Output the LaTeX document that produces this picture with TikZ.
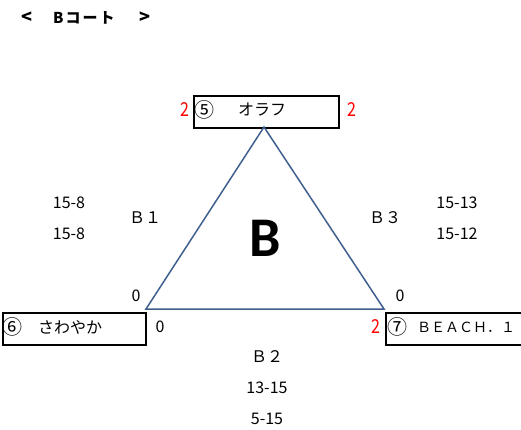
\documentclass[tikz,border=0pt]{standalone}
\usepackage{fontspec}
\setmainfont{Noto Sans CJK JP}
\newfontfamily\bigB{Carlito}
\definecolor{triblue}{HTML}{3F5F8F}
\begin{document}
\begin{tikzpicture}[x=1pt,y=-1pt,
  txt/.style={inner sep=0pt,font=\fontsize{16}{18}\selectfont},
  circ/.style={inner sep=0pt,font=\fontsize{20}{22}\selectfont},
  red2/.style={txt,text=red,yscale=1.2},
  teambox/.style={draw,line width=1.6pt,minimum width=#1,minimum height=32pt,inner sep=0pt},
  triline/.style={draw=triblue,line width=1.5pt}]
\useasboundingbox (0,0) rectangle (521,430);
% title
\node[txt,font=\fontsize{18}{20}\selectfont\bfseries] (lt) at (27,18) {<};
\node[txt,font=\fontsize{15}{18}\selectfont\bfseries,anchor=west] (title) at (53,18) {B\hspace{2pt}コ\hspace{2pt}ー\hspace{2pt}ト};
\node[txt,font=\fontsize{18}{20}\selectfont\bfseries] (gt) at (145,18) {>};
% boxes
\node[teambox=145pt,anchor=north west] (top) at (193,95) {};
\node[teambox=143pt,anchor=north west] (left) at (2,312) {};
\node[teambox=136pt,anchor=north west] (right) at (385,312) {};
\node[circ] (n5) at (204,110) {⑤};
\node[txt] (olaf) at (262,110) {オラフ};
\node[circ] (n6) at (12,327) {⑥};
\node[txt,anchor=west] (saw) at (38,327) {さわやか};
\node[circ] (n7) at (397,327) {⑦};
\node[txt,anchor=west,font=\fontsize{14}{16}\selectfont] (beach) at (417,327) {ＢＥＡＣＨ．１};
% triangle
\coordinate (A) at (264,127);
\coordinate (L) at (146,309);
\coordinate (R) at (384,309);
\draw[triline,line join=miter] (A) -- (L) -- (R) -- cycle;
\node[inner sep=0pt,font=\fontsize{56}{60}\selectfont\bigB\bfseries] (bigb) at (265,238) {B};
% scores
\node[red2] (s1) at (185,110) {2};
\node[red2] (s2) at (352,110) {2};
\node[txt] (s3) at (136,296) {0};
\node[txt] (s4) at (160,327) {0};
\node[red2] (s5) at (376,327) {2};
\node[txt] (s6) at (400,296) {0};
% matches
\node[txt] (m1a) at (69,203) {15-8};
\node[txt] (m1b) at (69,234) {15-8};
\node[txt] (b1) at (145,218) {Ｂ１};
\node[txt] (b3) at (385,218) {Ｂ３};
\node[txt] (m3a) at (457,203) {15-13};
\node[txt] (m3b) at (457,234) {15-12};
\node[txt] (b2) at (267,357) {Ｂ２};
\node[txt] (m2a) at (267,388) {13-15};
\node[txt] (m2b) at (267,419) {5-15};
\end{tikzpicture}
\end{document}
